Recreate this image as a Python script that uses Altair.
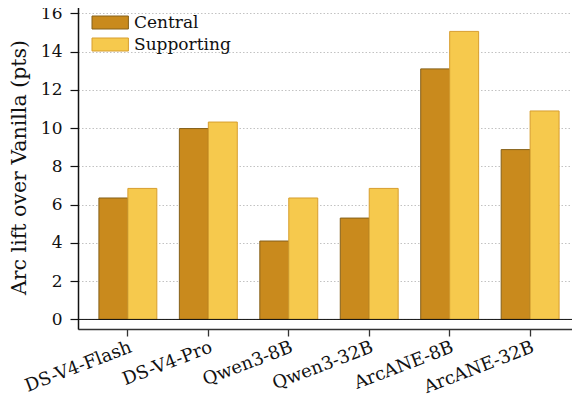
import altair as alt
import pandas as pd

models = ["DS-V4-Flash", "DS-V4-Pro", "Qwen3-8B", "Qwen3-32B", "ArcANE-8B", "ArcANE-32B"]
central = [6.35, 9.98, 4.1, 5.3, 13.1, 8.88]
supporting = [6.85, 10.32, 6.35, 6.85, 15.06, 10.9]
series = ["Central", "Supporting"]
fills = ["#C98A1D", "#F6C94D"]
strokes = ["#85601A", "#D79E2E"]
yticks = [0, 2, 4, 6, 8, 10, 12, 14, 16]

rows = []
for m, c, s in zip(models, central, supporting):
    rows.append({"model": m, "series": "Central", "value": c})
    rows.append({"model": m, "series": "Supporting", "value": s})
df = pd.DataFrame(rows)

FONT = "DejaVu Serif"

bars = alt.Chart(df).mark_bar(strokeWidth=1).encode(
    x=alt.X("model:N", sort=models,
            scale=alt.Scale(paddingInner=0.28, paddingOuter=0.26),
            axis=alt.Axis(title=None, labelAngle=-21, labelAlign="right", labelBaseline="top",
                          labelPadding=2, tickSize=7, tickColor="#333333", tickWidth=1.3,
                          domainColor="#333333", domainWidth=1.6, labelFontSize=18,
                          labelColor="#111111", labelFont=FONT, labelOverlap=False, labelLimit=0)),
    xOffset=alt.XOffset("series:N", sort=series, scale=alt.Scale(paddingInner=0, paddingOuter=0)),
    y=alt.Y("value:Q",
            scale=alt.Scale(domain=[-0.5, 16.44], nice=False, zero=False),
            axis=alt.Axis(values=yticks, title="Arc lift over Vanilla (pts)", grid=True,
                          gridDash=[1.5, 2], gridColor="#bbbbbb", gridWidth=0.9,
                          tickSize=8, tickColor="#111111", tickWidth=1.2,
                          domainColor="#111111", domainWidth=1.5,
                          labelPadding=8, labelFontSize=17, labelColor="#111111", labelFont=FONT,
                          titleFont=FONT, titleFontSize=20.5, titleFontWeight="normal",
                          titleColor="#111111", titlePadding=11)),
    y2=alt.datum(0),
    fill=alt.Fill("series:N", scale=alt.Scale(domain=series, range=fills),
                  legend=alt.Legend(title=None, orient="none", legendX=12, legendY=9,
                                    symbolType="M-1,-1H4.6V1H-1Z", symbolSize=169,
                                    symbolStrokeWidth=1, labelOffset=27, rowPadding=4,
                                    labelFontSize=17, labelFont=FONT, labelColor="#111111",
                                    padding=0, symbolOpacity=1)),
    stroke=alt.Stroke("series:N", scale=alt.Scale(domain=series, range=strokes)),
)

zero = alt.Chart(pd.DataFrame({"v": [0]})).mark_rule(color="#111111", strokeWidth=1).encode(
    y=alt.Y("v:Q")
)

chart = alt.layer(bars, zero).properties(
    width=502, height=324,
    autosize=alt.AutoSizeParams(type="none"),
    padding={"left": 70, "top": -3, "right": -8, "bottom": 68},
).configure_view(stroke=None).configure(background="white")

chart.save("out.html", embed_options={"renderer": "svg", "actions": False})
